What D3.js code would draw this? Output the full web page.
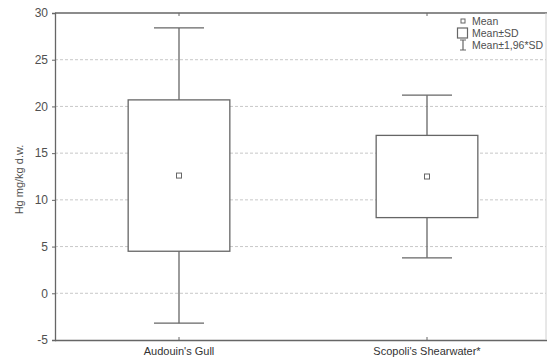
<!DOCTYPE html>
<html>
<head>
<meta charset="utf-8">
<script src="https://cdn.jsdelivr.net/npm/d3@7/dist/d3.min.js"></script>
<style>
  html, body { margin: 0; padding: 0; background: #fff; }
  svg { display: block; font-family: "Liberation Sans", Arial, sans-serif; }
</style>
</head>
<body>
<svg id="chart" width="547" height="361"></svg>
<script>
// Mercury concentration per species: mean, standard deviation bounds and 1.96*SD bounds
const species = ["Audouin's Gull", "Scopoli's Shearwater*"];
const means = [12.6, 12.5];
const sdLow = [4.5, 8.1];
const sdHigh = [20.7, 16.9];
const ciLow = [-3.2, 3.8];
const ciHigh = [28.4, 21.2];
const yTicks = [-5, 0, 5, 10, 15, 20, 25, 30];
const legendLabels = ["Mean", "Mean±SD", "Mean±1,96*SD"];

const svg = d3.select("#chart");
const plotLeft = 55, plotRight = 546, plotTop = 13, plotBottom = 340;
const ink = "#505050", lineCol = "#666";

const y = d3.scaleLinear().domain([-5, 30]).range([plotBottom, plotTop]);
const x = d3.scaleBand().domain(species).range([plotLeft, plotRight + 5]).paddingInner(0).paddingOuter(0);
const boxW = x.bandwidth() * 0.41;
const capW = 50;

// dashed horizontal grid
svg.append("g").selectAll("line")
  .data(yTicks.filter(t => t > -5 && t < 30))
  .join("line")
  .attr("x1", plotLeft).attr("x2", plotRight)
  .attr("y1", d => y(d)).attr("y2", d => y(d))
  .attr("stroke", "#c8c8c8").attr("stroke-width", 1)
  .attr("stroke-dasharray", "3,2");

// y axis
const yAxis = svg.append("g")
  .attr("transform", `translate(${plotLeft},0)`)
  .call(d3.axisLeft(y).tickValues(yTicks).tickFormat(d => String(d)).tickSize(3).tickPadding(4));
yAxis.select(".domain").attr("stroke", lineCol).attr("stroke-width", 1.3);
yAxis.selectAll(".tick line").attr("stroke", lineCol);
yAxis.selectAll("text").attr("fill", ink).attr("font-size", 12)
  .attr("font-family", "'Liberation Sans', Arial, sans-serif");

// x axis
const xAxis = svg.append("g")
  .attr("transform", `translate(0,${plotBottom})`)
  .call(d3.axisBottom(x).tickSize(3).tickSizeOuter(0).tickPadding(4));
xAxis.select(".domain").attr("stroke", lineCol).attr("stroke-width", 1.3)
  .attr("d", `M${plotLeft},0.5H${plotRight + 1}`);
xAxis.selectAll(".tick line").attr("stroke", lineCol).attr("y1", -3).attr("y2", 0);
xAxis.selectAll("text").attr("fill", "#333").attr("font-size", 11)
  .attr("font-family", "'Liberation Sans', Arial, sans-serif");

// top and right frame
svg.append("line").attr("x1", plotLeft).attr("x2", plotRight + 1).attr("y1", plotTop).attr("y2", plotTop)
  .attr("stroke", lineCol).attr("stroke-width", 1.3);
svg.append("line").attr("x1", plotRight).attr("x2", plotRight).attr("y1", plotTop).attr("y2", plotBottom)
  .attr("stroke", "#d0d0d0").attr("stroke-width", 1);
svg.append("g").selectAll("line").data(species).join("line")
  .attr("x1", d => x(d) + x.bandwidth() / 2).attr("x2", d => x(d) + x.bandwidth() / 2)
  .attr("y1", plotTop).attr("y2", plotTop + 3)
  .attr("stroke", lineCol);

// whiskers, boxes and means
const groups = svg.append("g").selectAll("g").data(species).join("g")
  .attr("transform", d => `translate(${x(d) + x.bandwidth() / 2},0)`);

groups.append("line")
  .attr("x1", 0).attr("x2", 0)
  .attr("y1", (d, i) => y(ciHigh[i])).attr("y2", (d, i) => y(ciLow[i]))
  .attr("stroke", lineCol).attr("stroke-width", 1.3);
groups.append("line")
  .attr("x1", -capW / 2).attr("x2", capW / 2)
  .attr("y1", (d, i) => y(ciHigh[i])).attr("y2", (d, i) => y(ciHigh[i]))
  .attr("stroke", lineCol).attr("stroke-width", 1.3);
groups.append("line")
  .attr("x1", -capW / 2).attr("x2", capW / 2)
  .attr("y1", (d, i) => y(ciLow[i])).attr("y2", (d, i) => y(ciLow[i]))
  .attr("stroke", lineCol).attr("stroke-width", 1.3);
groups.append("rect")
  .attr("x", -boxW / 2).attr("width", boxW)
  .attr("y", (d, i) => y(sdHigh[i]))
  .attr("height", (d, i) => y(sdLow[i]) - y(sdHigh[i]))
  .attr("fill", "#fff").attr("stroke", lineCol).attr("stroke-width", 1.3);
groups.append("rect")
  .attr("x", -2.5).attr("width", 5)
  .attr("y", (d, i) => y(means[i]) - 2.5).attr("height", 5)
  .attr("fill", "#fff").attr("stroke", lineCol).attr("stroke-width", 1);

// y axis title
svg.append("text")
  .attr("transform", `translate(23,${(plotTop + plotBottom) / 2 + 3}) rotate(-90)`)
  .attr("text-anchor", "middle")
  .attr("fill", ink).attr("font-size", 11)
  .text("Hg mg/kg d.w.");

// legend
const legend = svg.append("g").attr("transform", "translate(463,0)");
const rowY = [21, 33, 45];
legend.append("rect").attr("x", -2).attr("y", rowY[0] - 2).attr("width", 4).attr("height", 4)
  .attr("fill", "#fff").attr("stroke", lineCol);
legend.append("rect").attr("x", -5.5).attr("y", rowY[1] - 5).attr("width", 10).attr("height", 10)
  .attr("fill", "#fff").attr("stroke", lineCol).attr("stroke-width", 1.2);
legend.append("path")
  .attr("d", `M-3,${rowY[2] - 5}H3M0,${rowY[2] - 5}V${rowY[2] + 5}M-3,${rowY[2] + 5}H3`)
  .attr("fill", "none").attr("stroke", lineCol).attr("stroke-width", 1.2);
legend.selectAll("text.lab").data(legendLabels).join("text")
  .attr("class", "lab")
  .attr("x", 9).attr("y", (d, i) => rowY[i] + 3.5)
  .attr("fill", ink).attr("font-size", 10.5)
  .text(d => d);
</script>
</body>
</html>
